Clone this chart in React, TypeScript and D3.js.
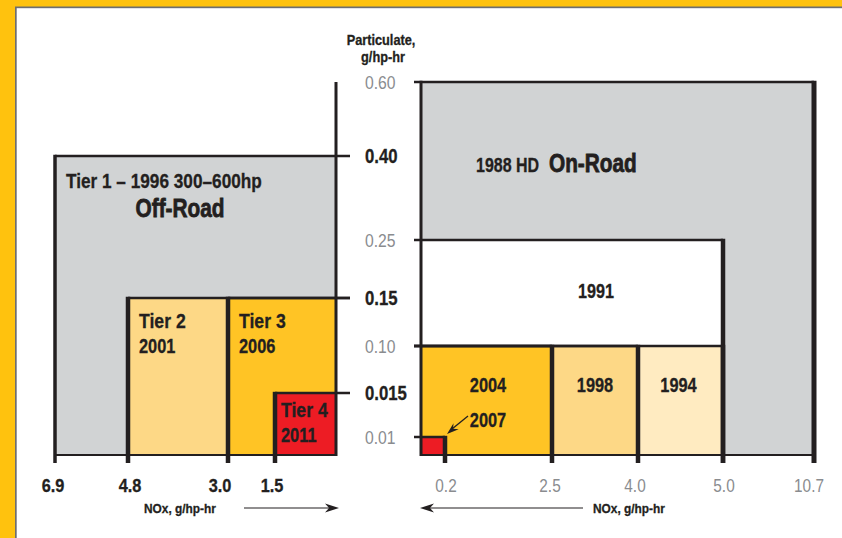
import React from "react";
import * as d3 from "d3";

// ---- data ----
const pmDomain = [0, 0.01, 0.015, 0.1, 0.15, 0.25, 0.4, 0.6];
const pmTickLabels = ["0.60", "0.40", "0.25", "0.15", "0.10", "0.015", "0.01"];
const pmTickValues = [0.6, 0.4, 0.25, 0.15, 0.1, 0.015, 0.01];
const pmTickBold = [false, true, false, true, false, true, false];

const offNoxDomain = [0, 1.5, 3.0, 4.8, 6.9];
const offNoxTicks = [6.9, 4.8, 3.0, 1.5];
const offNoxLabels = ["6.9", "4.8", "3.0", "1.5"];

const onNoxDomain = [0, 0.2, 2.5, 4.0, 5.0, 10.7];
const onNoxTicks = [0.2, 2.5, 4.0, 5.0, 10.7];
const onNoxLabels = ["0.2", "2.5", "4.0", "5.0", "10.7"];

// off-road tiers: name, year, NOx, PM
const offTiers = ["Tier 1", "Tier 2", "Tier 3", "Tier 4"];
const offYears = ["1996", "2001", "2006", "2011"];
const offNox = [6.9, 4.8, 3.0, 1.5];
const offPm = [0.4, 0.15, 0.15, 0.015];
const offColors = ["#d1d3d4", "#fdd886", "#ffc425", "#ed1c24"];

// on-road standards
const onYears = ["1988", "1991", "1994", "1998", "2004", "2007"];
const onNox = [10.7, 5.0, 5.0, 4.0, 2.5, 0.2];
const onPm = [0.6, 0.25, 0.1, 0.1, 0.1, 0.01];
const onColors = ["#d1d3d4", "#ffffff", "#ffebc1", "#fdd886", "#ffc425", "#ed1c24"];

const FONT = "'Liberation Sans', Arial, Helvetica, sans-serif";
const INK = "#231f20";
const GREY_TXT = "#8a8c8f";

type TP = {
  x: number; y: number; size: number; sx?: number; anchor?: string; bold?: boolean;
  fill?: string; heavy?: boolean; children: React.ReactNode;
};
function T({ x, y, size, sx = 0.86, anchor = "start", bold = true, fill = INK, heavy = false, children }: TP) {
  const sw = heavy ? 0.8 : bold ? 0.3 : 0;
  return (
    <text transform={`translate(${x},${y}) scale(${sx},1)`} fontSize={size} fontWeight={bold ? "bold" : "normal"}
      fill={fill} textAnchor={anchor as any} stroke={sw ? fill : "none"} strokeWidth={sw}>
      {children}
    </text>
  );
}

export default function App() {
  const W = 842, H = 538;
  const base = 455;
  const y = d3.scaleLinear().domain(pmDomain).range([455, 437, 393, 346, 298, 240, 156, 82]);
  const xOff = d3.scaleLinear().domain(offNoxDomain).range([336, 275, 228, 128, 55]);
  const xOn = d3.scaleLinear().domain(onNoxDomain).range([421, 445, 552, 638, 723, 814]);
  const tickLen = 8;

  const arrowPath = (x1: number, y1: number, x2: number, y2: number, L = 14, w = 4.5) => {
    const ang = Math.atan2(y2 - y1, x2 - x1);
    const bx = x2 - L * Math.cos(ang), by = y2 - L * Math.sin(ang);
    const px = -Math.sin(ang) * w, py = Math.cos(ang) * w;
    const nx = x2 - (L - 4) * Math.cos(ang), ny = y2 - (L - 4) * Math.sin(ang);
    return `M${x2},${y2} L${bx + px},${by + py} L${nx},${ny} L${bx - px},${by - py} Z`;
  };

  return (
    <div style={{ position: "absolute", left: 0, top: 0, width: W, height: H }}>
      <svg width={W} height={H} style={{ display: "block", fontFamily: FONT }}>
        {/* frame */}
        <rect x={0} y={0} width={W} height={H} fill="#ffc20e" />
        <rect x={15} y={6.5} width={W - 15} height={H - 6.5} fill="#6d6e70" />
        <rect x={16.7} y={8.2} width={W - 16.7} height={H - 8.2} fill="#ffffff" />

        {/* ---- left (off-road) ---- */}
        {offTiers.map((t, i) => (
          <rect key={t} x={xOff(offNox[i])} y={y(offPm[i])} width={xOff(0) - xOff(offNox[i])}
            height={base - y(offPm[i])} fill={offColors[i]} />
        ))}
        {offTiers.map((t, i) => (
          <line key={"t" + t} x1={xOff(offNox[i])} x2={xOff(0) + 14} y1={y(offPm[i])} y2={y(offPm[i])}
            stroke={INK} strokeWidth={2.5} />
        ))}
        <line x1={xOff(6.9)} x2={xOff(0)} y1={base} y2={base} stroke={INK} strokeWidth={2} />
        {offTiers.map((t, i) => (
          <line key={"v" + t} x1={xOff(offNox[i])} x2={xOff(offNox[i])} y1={y(offPm[i]) - 1.2} y2={base + tickLen}
            stroke={INK} strokeWidth={i === 0 ? 3.5 : 4.5} />
        ))}
        <line x1={xOff(0)} x2={xOff(0)} y1={y(0.6)} y2={base + 1} stroke={INK} strokeWidth={3} />

        {/* off-road labels */}
        <T x={66} y={188} size={21} sx={0.82}>Tier 1 – 1996 300–600hp</T>
        <T x={180} y={217} size={26} sx={0.8} anchor="middle" heavy>Off-Road</T>
        {offTiers.slice(1).map((t, j) => {
          const i = j + 1;
          const x0 = xOff(offNox[i]) + (i === 3 ? 6 : 11);
          const y0 = y(offPm[i]) + (i === 3 ? 24 : 30);
          return (
            <g key={"l" + t}>
              <T x={x0} y={y0} size={21} sx={0.84}>{t}</T>
              <T x={x0} y={y0 + 25} size={21} sx={0.78}>{offYears[i]}</T>
            </g>
          );
        })}
        {offNoxTicks.map((v, i) => (
          <T key={"ox" + i} x={xOff(v) + (v === 3.0 ? -8 : v === 1.5 ? -3 : v === 4.8 ? 2 : -2)} y={492} size={19}
            sx={0.86} anchor="middle">{offNoxLabels[i]}</T>
        ))}
        <T x={144} y={513} size={13.5} sx={0.88}>NOx, g/hp-hr</T>
        <line x1={244} x2={330} y1={508} y2={508} stroke={INK} strokeWidth={1.2} />
        <path d={arrowPath(244, 508, 339, 508)} fill={INK} />

        {/* ---- PM axis labels ---- */}
        <T x={381} y={45} size={14.5} sx={0.88} anchor="middle">Particulate,</T>
        <T x={383} y={62} size={14.5} sx={0.88} anchor="middle">g/hp-hr</T>
        {pmTickValues.map((v, i) => (
          <T key={"py" + i} x={365} y={y(v) + 7} size={pmTickBold[i] ? 19.5 : 18.5} sx={pmTickBold[i] ? 0.86 : 0.85}
            bold={pmTickBold[i]} fill={pmTickBold[i] ? INK : GREY_TXT}>{pmTickLabels[i]}</T>
        ))}

        {/* ---- right (on-road) ---- */}
        {onYears.map((yr, i) => (
          <rect key={yr} x={xOn(0)} y={y(onPm[i])} width={xOn(onNox[i]) - xOn(0)}
            height={base - y(onPm[i])} fill={onColors[i]} />
        ))}
        {onYears.map((yr, i) => (
          <line key={"t" + yr} x1={xOn(0) - 7} x2={xOn(onNox[i])} y1={y(onPm[i])} y2={y(onPm[i])}
            stroke={INK} strokeWidth={2.5} />
        ))}
        <line x1={xOn(0)} x2={xOn(10.7)} y1={base} y2={base} stroke={INK} strokeWidth={2} />
        {onYears.map((yr, i) => (
          <line key={"v" + yr} x1={xOn(onNox[i])} x2={xOn(onNox[i])} y1={y(onPm[i]) - 1.2} y2={base + tickLen}
            stroke={INK} strokeWidth={i === 0 ? 5 : 4.5} />
        ))}
        <line x1={xOn(0)} x2={xOn(0)} y1={y(0.6) - 1.2} y2={base + 1} stroke={INK} strokeWidth={3} />

        {/* on-road labels */}
        <T x={476} y={172} size={20} sx={0.8}>1988 HD</T>
        <T x={549} y={172} size={26} sx={0.8} heavy>On-Road</T>
        <T x={596} y={298} size={21} sx={0.77} anchor="middle">{onYears[1]}</T>
        {[4, 3, 2].map((i) => {
          const right = xOn(onNox[i]);
          const left = i === 4 ? xOn(0) : xOn(onNox[i + 1]);
          return (
            <T key={"c" + i} x={(left + right) / 2 + (i === 4 ? 1.5 : i === 2 ? -2 : 0)} y={392} size={21} sx={0.78}
              anchor="middle">{onYears[i]}</T>
          );
        })}
        <T x={488} y={427} size={21} sx={0.78} anchor="middle">{onYears[5]}</T>
        <line x1={468} y1={416} x2={452} y2={429} stroke={INK} strokeWidth={1.3} />
        <path d={arrowPath(468, 416, 447, 434, 12, 4)} fill={INK} />

        {onNoxTicks.map((v, i) => (
          <T key={"nx" + i} x={xOn(v) + (v === 10.7 ? -5 : v === 4.0 ? -3 : v === 2.5 ? -2 : 1)} y={492} size={18.5}
            sx={0.83} bold={false} fill={GREY_TXT} anchor="middle">{onNoxLabels[i]}</T>
        ))}
        <line x1={430} x2={583} y1={508} y2={508} stroke={INK} strokeWidth={1.2} />
        <path d={arrowPath(583, 508, 420, 508)} fill={INK} />
        <T x={593} y={513} size={13.5} sx={0.88}>NOx, g/hp-hr</T>
      </svg>
    </div>
  );
}
